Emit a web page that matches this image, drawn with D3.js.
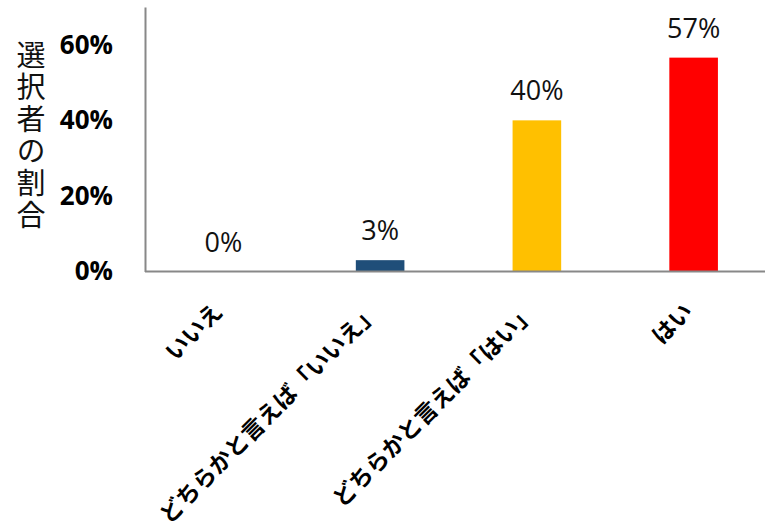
<!DOCTYPE html>
<html>
<head>
<meta charset="utf-8">
<script src="https://cdn.jsdelivr.net/npm/d3@7"></script>
<style>
  html, body { margin: 0; padding: 0; background: #fff; }
  svg { display: block; }
</style>
</head>
<body>
<svg id="chart" width="765" height="530"></svg>
<script>
const categories = ["いいえ", "どちらかと言えば「いいえ」", "どちらかと言えば「はい」", "はい"];
const values = [0, 3.0, 40.0, 56.6];
const valueLabels = ["0%", "3%", "40%", "57%"];
const colors = ["#1F4E79", "#1F4E79", "#FFC000", "#FF0000"];
const yTicks = [0, 20, 40, 60];
const yTitle = "選択者の割合";

const svg = d3.select("#chart");
const x0 = 145, x1 = 772, yTop = 7, yBottom = 271.5;

const x = d3.scaleBand().domain(categories).range([x0, x1]).paddingInner(0.69).paddingOuter(0.345);
const y = d3.scaleLinear().domain([0, 70]).range([yBottom, yTop]);

// bars
svg.selectAll("rect.bar").data(categories).enter().append("rect")
  .attr("class", "bar")
  .attr("x", d => x(d))
  .attr("width", x.bandwidth())
  .attr("y", (d, i) => y(values[i]))
  .attr("height", (d, i) => yBottom - y(values[i]))
  .attr("fill", (d, i) => colors[i]);

// value labels
svg.selectAll("text.val").data(categories).enter().append("text")
  .attr("class", "val")
  .attr("x", d => x(d) + x.bandwidth() / 2)
  .attr("y", (d, i) => y(values[i]) - 20)
  .attr("text-anchor", "middle")
  .attr("font-family", "'Open Sans', sans-serif")
  .attr("font-size", 27)
  .attr("fill", "#111")
  .text((d, i) => valueLabels[i]);

// y axis
const yAxis = d3.axisLeft(y).tickValues(yTicks).tickFormat(d => d + "%").tickSize(0).tickPadding(32);
const gy = svg.append("g").attr("transform", `translate(${x0},0)`).call(yAxis);
gy.select(".domain").attr("stroke", "#888").attr("stroke-width", 2);
gy.selectAll("text")
  .attr("font-family", "'Open Sans', sans-serif")
  .attr("font-weight", "bold")
  .attr("font-size", 26)
  .attr("fill", "#000");

// x axis
const xAxis = d3.axisBottom(x).tickSize(0).tickPadding(0);
const gx = svg.append("g").attr("transform", `translate(0,${yBottom})`).call(xAxis);
gx.select(".domain").attr("stroke", "#888").attr("stroke-width", 2)
  .attr("d", `M${x0},0H765`);
gx.selectAll("text")
  .attr("font-family", "'Noto Sans CJK JP', sans-serif")
  .attr("font-weight", "bold")
  .attr("font-size", 23)
  .attr("fill", "#000")
  .attr("text-anchor", "end")
  .attr("dy", "0.35em")
  .attr("transform", "translate(-5,36) rotate(-45)");

// y title (vertical, upright characters)
svg.append("text")
  .attr("x", 31)
  .attr("y", 40)
  .attr("font-family", "'Noto Sans CJK JP', sans-serif")
  .attr("font-size", 29)
  .attr("fill", "#111")
  .style("writing-mode", "vertical-rl")
  .style("letter-spacing", "3px")
  .text(yTitle);
</script>
</body>
</html>
